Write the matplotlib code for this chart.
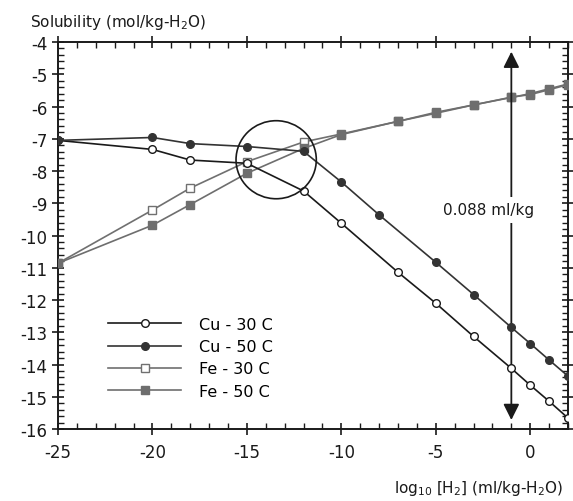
import matplotlib
matplotlib.use('Agg')
import matplotlib.pyplot as plt
from matplotlib.patches import Ellipse
from matplotlib.ticker import MultipleLocator

plt.rcParams['font.family'] = ['DejaVu Sans']
plt.rcParams['axes.unicode_minus'] = False

# data
cu30_x = [-25, -20, -18, -15, -12, -10, -7, -5, -3, -1, 0, 1, 2]
cu30_y = [-7.05, -7.33, -7.66, -7.76, -8.62, -9.62, -11.14, -12.1, -13.13, -14.12, -14.64, -15.14, -15.66]

cu50_x = [-25, -20, -18, -15, -12, -10, -8, -5, -3, -1, 0, 1, 2]
cu50_y = [-7.05, -6.96, -7.15, -7.24, -7.39, -8.34, -9.36, -10.83, -11.83, -12.85, -13.35, -13.86, -14.36]

fe30_x = [-25, -20, -18, -15, -12, -10, -7, -5, -3, -1, 0, 1, 2]
fe30_y = [-10.86, -9.21, -8.53, -7.71, -7.10, -6.85, -6.46, -6.21, -5.95, -5.71, -5.63, -5.48, -5.32]

fe50_x = [-25, -20, -18, -15, -12, -10, -7, -5, -3, -1, 0, 1, 2]
fe50_y = [-10.86, -9.68, -9.04, -8.07, -7.30, -6.87, -6.46, -6.18, -5.95, -5.72, -5.6, -5.45, -5.3]

arrow_x = -1
arrow_label = '0.088 ml/kg'

fig = plt.figure(figsize=(5.73, 5.02), dpi=100)
ax = fig.add_axes([0.1012, 0.1434, 0.8901, 0.7709])

ax.plot(cu30_x, cu30_y, '-o', color='#1a1a1a', lw=1.2, ms=5.5, mfc='white', mec='#1a1a1a', mew=1.0, label='Cu - 30 C', zorder=4)
ax.plot(cu50_x, cu50_y, '-o', color='#333333', lw=1.2, ms=5.5, mfc='#333333', mec='#333333', label='Cu - 50 C', zorder=4)
ax.plot(fe30_x, fe30_y, '-s', color='#707070', lw=1.2, ms=5.5, mfc='white', mec='#707070', mew=1.0, label='Fe - 30 C', zorder=3)
ax.plot(fe50_x, fe50_y, '-s', color='#6e6e6e', lw=1.2, ms=5.5, mfc='#6e6e6e', mec='#6e6e6e', label='Fe - 50 C', zorder=3)

# circle around the crossing region
ax.add_patch(Ellipse((-13.45, -7.65), 4.25, 2.42, fill=False, ec='#1a1a1a', lw=1.2, zorder=5))

# double arrow with label
ax.annotate('', xy=(arrow_x, -4.3), xytext=(arrow_x, -9.2),
            arrowprops=dict(arrowstyle='-|>', color='#1a1a1a', lw=1.3, mutation_scale=24, shrinkA=0, shrinkB=0))
ax.annotate('', xy=(arrow_x, -15.72), xytext=(arrow_x, -9.2),
            arrowprops=dict(arrowstyle='-|>', color='#1a1a1a', lw=1.3, mutation_scale=24, shrinkA=0, shrinkB=0))
ax.text(-2.2, -9.2, arrow_label, ha='center', va='center', fontsize=11, color='#1a1a1a',
        bbox=dict(fc='white', ec='none', pad=4), zorder=6)

ax.set_xlim(-25, 2)
ax.set_ylim(-16, -4)
ax.xaxis.set_major_locator(MultipleLocator(5))
ax.xaxis.set_minor_locator(MultipleLocator(1))
ax.yaxis.set_major_locator(MultipleLocator(1))
ax.yaxis.set_minor_locator(MultipleLocator(0.2))
ax.tick_params(which='major', direction='inout', length=8, width=1.2, labelsize=12,
               top=True, right=True, colors='#1a1a1a')
ax.tick_params(which='minor', direction='in', length=4, width=1.0, top=True, right=True, colors='#1a1a1a')
ax.tick_params(axis='x', pad=6)
for s in ax.spines.values():
    s.set_linewidth(1.4)
    s.set_color('#1a1a1a')

ax.legend(loc='upper left', bbox_to_anchor=(0.082, 0.31), frameon=False, fontsize=11.5,
          handlelength=4.6, handletextpad=1.1, labelspacing=0.45, borderpad=0)

fig.text(30 / 573, 1 - 22 / 502, 'Solubility (mol/kg-H$_2$O)', ha='left', va='center', fontsize=11, color='#1a1a1a')
fig.text(563 / 573, 1 - 489 / 502, 'log$_{10}$ [H$_2$] (ml/kg-H$_2$O)', ha='right', va='center', fontsize=11, color='#1a1a1a')

fig.savefig('out.png', dpi=100)
